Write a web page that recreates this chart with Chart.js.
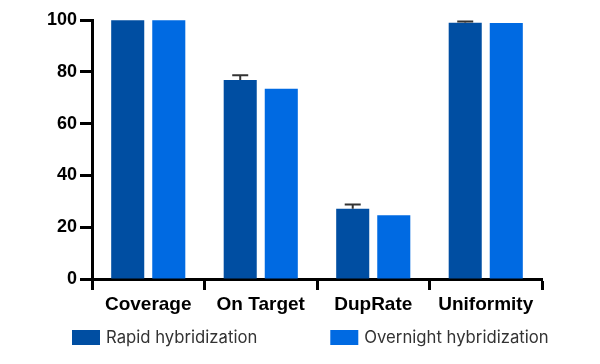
<!DOCTYPE html>
<html>
<head>
<meta charset="utf-8">
<script src="https://cdn.jsdelivr.net/npm/chart.js@4.4.0/dist/chart.umd.min.js"></script>
<style>
  html, body { margin: 0; padding: 0; background: #fff; }
  #wrap { width: 600px; height: 364px; }
</style>
</head>
<body>
<div id="wrap"><canvas id="chart" width="600" height="364"></canvas></div>
<script>
// chart values
const categories = ['Coverage', 'On Target', 'DupRate', 'Uniformity'];
const seriesNames = ['Rapid hybridization', 'Overnight hybridization'];
const rapidValues = [99.9, 76.8, 27.1, 98.9];
const rapidErrors = [0, 1.9, 1.7, 0.5];
const overnightValues = [99.9, 73.5, 24.6, 98.8];
const overnightErrors = [0, 0, 0, 0];
const yTicks = [0, 20, 40, 60, 80, 100];

const darkBlue = '#004ea2';
const lightBlue = '#006ae2';
const axisFont = '"Liberation Sans", Arial, sans-serif';

// draws the small error bars on top of the bars
const errorBars = {
    id: 'errorBars',
    afterDatasetsDraw(chart) {
        const ctx = chart.ctx;
        const yScale = chart.scales.y;
        ctx.save();
        ctx.strokeStyle = '#333';
        ctx.lineWidth = 2;
        chart.data.datasets.forEach((ds, di) => {
            const meta = chart.getDatasetMeta(di);
            meta.data.forEach((bar, i) => {
                const err = ds.errors[i];
                if (!err) return;
                const yTop = yScale.getPixelForValue(ds.data[i] + err);
                ctx.beginPath();
                ctx.moveTo(bar.x, bar.y);
                ctx.lineTo(bar.x, yTop);
                ctx.moveTo(bar.x - 8, yTop);
                ctx.lineTo(bar.x + 8, yTop);
                ctx.stroke();
            });
        });
        ctx.restore();
    }
};

// legend row under the axis, spaced like the original
const bottomLegend = {
    id: 'bottomLegend',
    afterDraw(chart) {
        const ctx = chart.ctx;
        ctx.save();
        ctx.font = '16.7px Inter, "Noto Sans", sans-serif';
        ctx.textBaseline = 'middle';
        let x = 72;
        const y = 330;
        chart.data.datasets.forEach(ds => {
            ctx.fillStyle = ds.backgroundColor;
            ctx.fillRect(x, y, 28, 15);
            ctx.fillStyle = '#333';
            ctx.fillText(ds.label, x + 34, y + 8);
            x += 34 + ctx.measureText(ds.label).width + 73;
        });
        ctx.restore();
    }
};

new Chart(document.getElementById('chart'), {
    type: 'bar',
    data: {
        labels: categories,
        datasets: [
            { label: seriesNames[0], data: rapidValues, errors: rapidErrors, backgroundColor: darkBlue },
            { label: seriesNames[1], data: overnightValues, errors: overnightErrors, backgroundColor: lightBlue }
        ]
    },
    options: {
        responsive: false,
        animation: false,
        categoryPercentage: 0.73,
        barPercentage: 0.805,
        layout: { padding: { top: 20, left: 0, right: 58, bottom: 45 } },
        plugins: {
            legend: { display: false },
            tooltip: { enabled: false }
        },
        scales: {
            x: {
                grid: { drawOnChartArea: false, tickLength: 11, tickWidth: 3, tickColor: '#000' },
                border: { color: '#000', width: 3 },
                ticks: { color: '#000', font: { family: axisFont, size: 19, weight: 'bold' }, padding: 3 },
                afterFit(scale) { scale.height = 40; }
            },
            y: {
                min: 0,
                max: 100,
                afterBuildTicks(scale) { scale.ticks = yTicks.map(v => ({ value: v })); },
                grid: { drawOnChartArea: false, tickLength: 12, tickWidth: 3, tickColor: '#000' },
                border: { color: '#000', width: 3 },
                ticks: { color: '#000', font: { family: axisFont, size: 18, weight: 'bold' }, padding: 3 },
                afterFit(scale) { scale.width = 92; }
            }
        }
    },
    plugins: [errorBars, bottomLegend]
});
</script>
</body>
</html>
